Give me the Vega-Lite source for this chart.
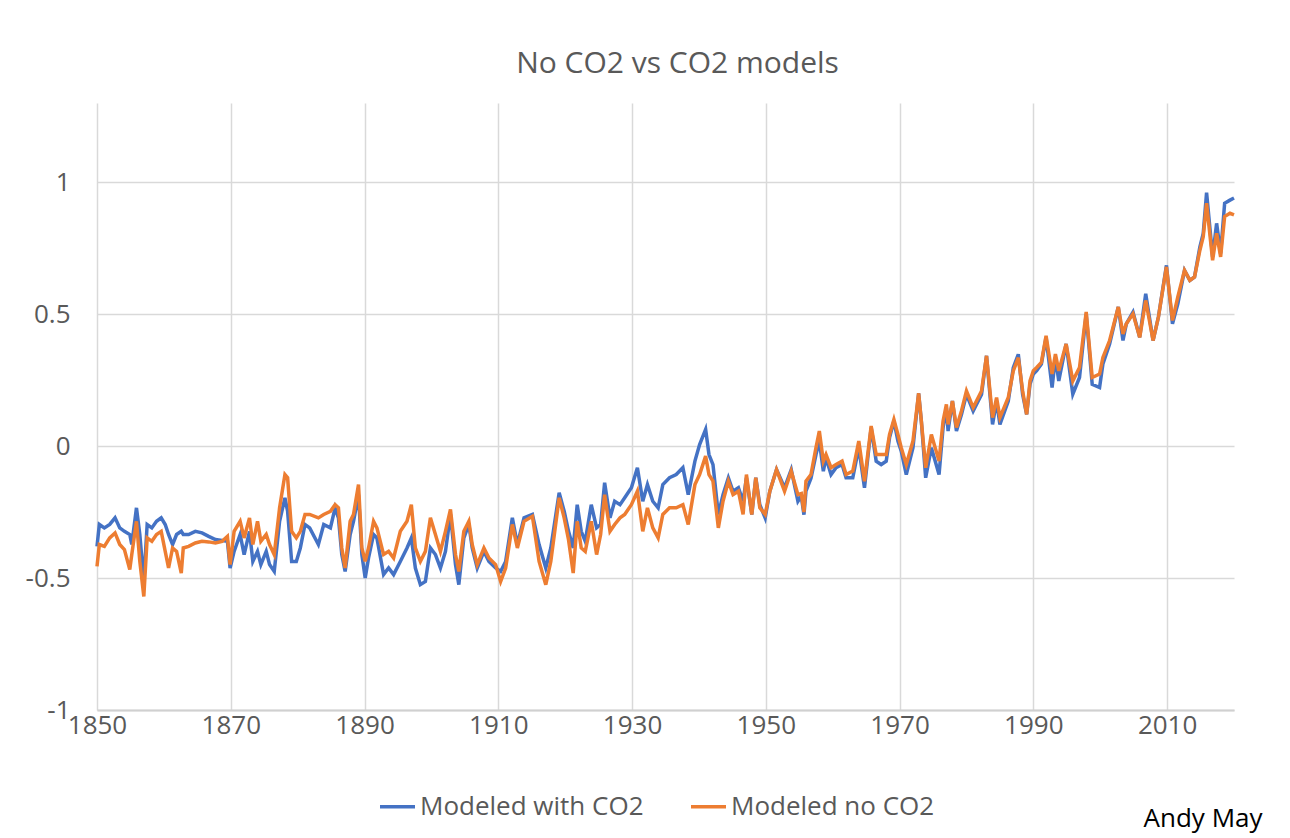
{
  "$schema": "https://vega.github.io/schema/vega-lite/v6.json",
  "width": 1137,
  "height": 607,
  "autosize": {"type": "none"},
  "padding": {"left": 97, "top": 103, "right": 56, "bottom": 128},
  "background": "white",
  "config": {
    "view": {"stroke": null},
    "font": "Open Sans"
  },
  "title": {
    "text": "No CO2 vs CO2 models",
    "fontSize": 30,
    "fontWeight": "normal",
    "font": "Open Sans",
    "color": "#595959",
    "anchor": "middle",
    "dx": 12,
    "offset": 24
  },
  "data": {
    "values": [
      {"year": 1850.0, "with": -0.38, "no": -0.456},
      {"year": 1850.35, "with": -0.297, "no": -0.373},
      {"year": 1851.1, "with": -0.31, "no": -0.38},
      {"year": 1851.9, "with": -0.297, "no": -0.348},
      {"year": 1852.7, "with": -0.272, "no": -0.329},
      {"year": 1853.4, "with": -0.31, "no": -0.373},
      {"year": 1854.1, "with": -0.323, "no": -0.392},
      {"year": 1854.9, "with": -0.335, "no": -0.468},
      {"year": 1855.2, "with": -0.373, "no": -0.411},
      {"year": 1855.9, "with": -0.234, "no": -0.285},
      {"year": 1856.4, "with": -0.335, "no": -0.437},
      {"year": 1857.0, "with": -0.513, "no": -0.57},
      {"year": 1857.5, "with": -0.297, "no": -0.348},
      {"year": 1858.2, "with": -0.31, "no": -0.361},
      {"year": 1858.9, "with": -0.285, "no": -0.335},
      {"year": 1859.6, "with": -0.272, "no": -0.323},
      {"year": 1860.2, "with": -0.297, "no": -0.399},
      {"year": 1860.7, "with": -0.335, "no": -0.462},
      {"year": 1861.3, "with": -0.373, "no": -0.386},
      {"year": 1861.9, "with": -0.335, "no": -0.399},
      {"year": 1862.6, "with": -0.323, "no": -0.481},
      {"year": 1862.9, "with": -0.335, "no": -0.386},
      {"year": 1863.7, "with": -0.335, "no": -0.38},
      {"year": 1864.7, "with": -0.323, "no": -0.367},
      {"year": 1865.7, "with": -0.329, "no": -0.361},
      {"year": 1866.7, "with": -0.342, "no": -0.363},
      {"year": 1867.7, "with": -0.354, "no": -0.367},
      {"year": 1868.7, "with": -0.358, "no": -0.361},
      {"year": 1869.5, "with": -0.361, "no": -0.342},
      {"year": 1869.9, "with": -0.462, "no": -0.449},
      {"year": 1870.5, "with": -0.399, "no": -0.323},
      {"year": 1871.4, "with": -0.335, "no": -0.285},
      {"year": 1872.0, "with": -0.411, "no": -0.348},
      {"year": 1872.8, "with": -0.323, "no": -0.272},
      {"year": 1873.3, "with": -0.437, "no": -0.373},
      {"year": 1874.0, "with": -0.399, "no": -0.285},
      {"year": 1874.5, "with": -0.449, "no": -0.361},
      {"year": 1875.3, "with": -0.399, "no": -0.335},
      {"year": 1875.8, "with": -0.449, "no": -0.373},
      {"year": 1876.5, "with": -0.475, "no": -0.411},
      {"year": 1877.3, "with": -0.285, "no": -0.234},
      {"year": 1878.1, "with": -0.196, "no": -0.108},
      {"year": 1878.5, "with": -0.247, "no": -0.12},
      {"year": 1879.1, "with": -0.437, "no": -0.323},
      {"year": 1879.8, "with": -0.437, "no": -0.348},
      {"year": 1880.4, "with": -0.386, "no": -0.323},
      {"year": 1881.1, "with": -0.297, "no": -0.259},
      {"year": 1881.8, "with": -0.31, "no": -0.259},
      {"year": 1883.1, "with": -0.373, "no": -0.272},
      {"year": 1883.9, "with": -0.297, "no": -0.259},
      {"year": 1884.9, "with": -0.31, "no": -0.247},
      {"year": 1885.6, "with": -0.234, "no": -0.222},
      {"year": 1886.1, "with": -0.272, "no": -0.234},
      {"year": 1886.6, "with": -0.411, "no": -0.386},
      {"year": 1887.1, "with": -0.475, "no": -0.462},
      {"year": 1887.85, "with": -0.335, "no": -0.285},
      {"year": 1888.35, "with": -0.285, "no": -0.259},
      {"year": 1889.1, "with": -0.184, "no": -0.146},
      {"year": 1889.6, "with": -0.411, "no": -0.386},
      {"year": 1890.1, "with": -0.5, "no": -0.437},
      {"year": 1890.6, "with": -0.424, "no": -0.386},
      {"year": 1891.35, "with": -0.335, "no": -0.285},
      {"year": 1891.85, "with": -0.348, "no": -0.31},
      {"year": 1892.85, "with": -0.487, "no": -0.411},
      {"year": 1893.6, "with": -0.462, "no": -0.399},
      {"year": 1894.35, "with": -0.487, "no": -0.424},
      {"year": 1895.35, "with": -0.437, "no": -0.323},
      {"year": 1896.35, "with": -0.386, "no": -0.285},
      {"year": 1897.0, "with": -0.348, "no": -0.222},
      {"year": 1897.6, "with": -0.462, "no": -0.386},
      {"year": 1898.35, "with": -0.525, "no": -0.437},
      {"year": 1899.1, "with": -0.513, "no": -0.399},
      {"year": 1899.85, "with": -0.386, "no": -0.272},
      {"year": 1900.6, "with": -0.411, "no": -0.335},
      {"year": 1901.35, "with": -0.462, "no": -0.399},
      {"year": 1902.1, "with": -0.399, "no": -0.323},
      {"year": 1902.85, "with": -0.259, "no": -0.24},
      {"year": 1903.6, "with": -0.449, "no": -0.411},
      {"year": 1904.1, "with": -0.525, "no": -0.475},
      {"year": 1904.85, "with": -0.348, "no": -0.323},
      {"year": 1905.6, "with": -0.297, "no": -0.285},
      {"year": 1906.1, "with": -0.386, "no": -0.373},
      {"year": 1906.85, "with": -0.462, "no": -0.449},
      {"year": 1907.85, "with": -0.399, "no": -0.386},
      {"year": 1908.6, "with": -0.437, "no": -0.424},
      {"year": 1909.6, "with": -0.462, "no": -0.449},
      {"year": 1910.35, "with": -0.475, "no": -0.513},
      {"year": 1911.1, "with": -0.437, "no": -0.462},
      {"year": 1912.1, "with": -0.272, "no": -0.297},
      {"year": 1912.85, "with": -0.373, "no": -0.386},
      {"year": 1913.85, "with": -0.272, "no": -0.285},
      {"year": 1915.1, "with": -0.259, "no": -0.266},
      {"year": 1916.1, "with": -0.373, "no": -0.437},
      {"year": 1917.1, "with": -0.462, "no": -0.525},
      {"year": 1917.85, "with": -0.386, "no": -0.437},
      {"year": 1919.1, "with": -0.177, "no": -0.196},
      {"year": 1919.85, "with": -0.247, "no": -0.272},
      {"year": 1920.5, "with": -0.323, "no": -0.355},
      {"year": 1921.2, "with": -0.386, "no": -0.481},
      {"year": 1921.8, "with": -0.222, "no": -0.285},
      {"year": 1922.4, "with": -0.323, "no": -0.386},
      {"year": 1923.0, "with": -0.361, "no": -0.399},
      {"year": 1923.9, "with": -0.222, "no": -0.285},
      {"year": 1924.7, "with": -0.31, "no": -0.411},
      {"year": 1925.3, "with": -0.297, "no": -0.335},
      {"year": 1925.9, "with": -0.139, "no": -0.184},
      {"year": 1926.7, "with": -0.272, "no": -0.323},
      {"year": 1927.4, "with": -0.209, "no": -0.297},
      {"year": 1928.2, "with": -0.222, "no": -0.272},
      {"year": 1928.9, "with": -0.196, "no": -0.259},
      {"year": 1929.9, "with": -0.158, "no": -0.222},
      {"year": 1930.8, "with": -0.082, "no": -0.171},
      {"year": 1931.6, "with": -0.209, "no": -0.323},
      {"year": 1932.3, "with": -0.146, "no": -0.234},
      {"year": 1933.1, "with": -0.209, "no": -0.31},
      {"year": 1933.9, "with": -0.234, "no": -0.348},
      {"year": 1934.6, "with": -0.146, "no": -0.259},
      {"year": 1935.6, "with": -0.12, "no": -0.234},
      {"year": 1936.6, "with": -0.108, "no": -0.234},
      {"year": 1937.6, "with": -0.082, "no": -0.222},
      {"year": 1938.4, "with": -0.184, "no": -0.297},
      {"year": 1939.4, "with": -0.057, "no": -0.146},
      {"year": 1940.1, "with": 0.006, "no": -0.108},
      {"year": 1941.0, "with": 0.063, "no": -0.038},
      {"year": 1941.5, "with": -0.032, "no": -0.108},
      {"year": 1942.1, "with": -0.07, "no": -0.133},
      {"year": 1942.9, "with": -0.259, "no": -0.31},
      {"year": 1943.6, "with": -0.184, "no": -0.209},
      {"year": 1944.4, "with": -0.12, "no": -0.133},
      {"year": 1945.1, "with": -0.171, "no": -0.184},
      {"year": 1945.9, "with": -0.158, "no": -0.171},
      {"year": 1946.6, "with": -0.209, "no": -0.259},
      {"year": 1947.1, "with": -0.12, "no": -0.108},
      {"year": 1947.9, "with": -0.259, "no": -0.259},
      {"year": 1948.5, "with": -0.12, "no": -0.12},
      {"year": 1949.1, "with": -0.222, "no": -0.234},
      {"year": 1949.9, "with": -0.272, "no": -0.259},
      {"year": 1950.6, "with": -0.171, "no": -0.171},
      {"year": 1951.6, "with": -0.089, "no": -0.089},
      {"year": 1952.8, "with": -0.158, "no": -0.171},
      {"year": 1953.8, "with": -0.089, "no": -0.095},
      {"year": 1954.8, "with": -0.209, "no": -0.184},
      {"year": 1955.3, "with": -0.19, "no": -0.18},
      {"year": 1955.7, "with": -0.26, "no": -0.25},
      {"year": 1956.0, "with": -0.171, "no": -0.133},
      {"year": 1956.75, "with": -0.122, "no": -0.108},
      {"year": 1957.5, "with": -0.032, "no": -0.006},
      {"year": 1958.0, "with": 0.019, "no": 0.057},
      {"year": 1958.6, "with": -0.095, "no": -0.057},
      {"year": 1959.0, "with": -0.044, "no": -0.032},
      {"year": 1959.75, "with": -0.108, "no": -0.082},
      {"year": 1960.5, "with": -0.082, "no": -0.07},
      {"year": 1961.4, "with": -0.07, "no": -0.057},
      {"year": 1962.0, "with": -0.12, "no": -0.108},
      {"year": 1963.0, "with": -0.12, "no": -0.095},
      {"year": 1963.9, "with": -0.006, "no": 0.019},
      {"year": 1964.75, "with": -0.158, "no": -0.133},
      {"year": 1965.75, "with": 0.07, "no": 0.076},
      {"year": 1966.5, "with": -0.057, "no": -0.032},
      {"year": 1967.25, "with": -0.07, "no": -0.032},
      {"year": 1968.0, "with": -0.057, "no": -0.032},
      {"year": 1968.5, "with": 0.032, "no": 0.044},
      {"year": 1969.15, "with": 0.095, "no": 0.101},
      {"year": 1969.75, "with": 0.019, "no": 0.044},
      {"year": 1970.25, "with": -0.019, "no": -0.006},
      {"year": 1971.0, "with": -0.108, "no": -0.07},
      {"year": 1972.0, "with": -0.006, "no": 0.019},
      {"year": 1972.85, "with": 0.2, "no": 0.2},
      {"year": 1973.25, "with": 0.095, "no": 0.095},
      {"year": 1973.9, "with": -0.12, "no": -0.082},
      {"year": 1974.75, "with": -0.006, "no": 0.044},
      {"year": 1975.9, "with": -0.108, "no": -0.057},
      {"year": 1976.5, "with": 0.07, "no": 0.095},
      {"year": 1977.0, "with": 0.146, "no": 0.158},
      {"year": 1977.25, "with": 0.057, "no": 0.082},
      {"year": 1977.9, "with": 0.171, "no": 0.171},
      {"year": 1978.5, "with": 0.057, "no": 0.07},
      {"year": 1979.25, "with": 0.12, "no": 0.133},
      {"year": 1980.0, "with": 0.196, "no": 0.209},
      {"year": 1981.0, "with": 0.133, "no": 0.146},
      {"year": 1982.25, "with": 0.196, "no": 0.209},
      {"year": 1983.0, "with": 0.342, "no": 0.342},
      {"year": 1983.9, "with": 0.082, "no": 0.108},
      {"year": 1984.5, "with": 0.171, "no": 0.184},
      {"year": 1985.0, "with": 0.082, "no": 0.108},
      {"year": 1986.25, "with": 0.171, "no": 0.184},
      {"year": 1987.0, "with": 0.297, "no": 0.285},
      {"year": 1987.75, "with": 0.348, "no": 0.335},
      {"year": 1988.4, "with": 0.196, "no": 0.209},
      {"year": 1989.0, "with": 0.12, "no": 0.12},
      {"year": 1989.5, "with": 0.234, "no": 0.247},
      {"year": 1990.0, "with": 0.273, "no": 0.286},
      {"year": 1990.5, "with": 0.286, "no": 0.298},
      {"year": 1991.2, "with": 0.311, "no": 0.317},
      {"year": 1991.9, "with": 0.412, "no": 0.418},
      {"year": 1992.8, "with": 0.222, "no": 0.273},
      {"year": 1993.3, "with": 0.336, "no": 0.349},
      {"year": 1993.8, "with": 0.247, "no": 0.285},
      {"year": 1994.9, "with": 0.387, "no": 0.387},
      {"year": 1995.9, "with": 0.197, "no": 0.247},
      {"year": 1996.9, "with": 0.26, "no": 0.298},
      {"year": 1997.9, "with": 0.501, "no": 0.508},
      {"year": 1998.8, "with": 0.234, "no": 0.26},
      {"year": 1999.9, "with": 0.222, "no": 0.273},
      {"year": 2000.4, "with": 0.311, "no": 0.336},
      {"year": 2001.4, "with": 0.387, "no": 0.4},
      {"year": 2002.7, "with": 0.527, "no": 0.527},
      {"year": 2003.4, "with": 0.4, "no": 0.425},
      {"year": 2003.9, "with": 0.463, "no": 0.463},
      {"year": 2004.9, "with": 0.508, "no": 0.501},
      {"year": 2005.9, "with": 0.412, "no": 0.412},
      {"year": 2006.8, "with": 0.577, "no": 0.552},
      {"year": 2007.9, "with": 0.4, "no": 0.4},
      {"year": 2008.7, "with": 0.489, "no": 0.489},
      {"year": 2009.9, "with": 0.685, "no": 0.679},
      {"year": 2010.8, "with": 0.463, "no": 0.476},
      {"year": 2011.6, "with": 0.539, "no": 0.565},
      {"year": 2012.6, "with": 0.666, "no": 0.666},
      {"year": 2013.4, "with": 0.628, "no": 0.628},
      {"year": 2014.1, "with": 0.641, "no": 0.641},
      {"year": 2014.9, "with": 0.755, "no": 0.742},
      {"year": 2015.4, "with": 0.806, "no": 0.793},
      {"year": 2015.9, "with": 0.96, "no": 0.92},
      {"year": 2016.8, "with": 0.717, "no": 0.704},
      {"year": 2017.4, "with": 0.844, "no": 0.806},
      {"year": 2018.0, "with": 0.73, "no": 0.717},
      {"year": 2018.6, "with": 0.92, "no": 0.87},
      {"year": 2019.4, "with": 0.932, "no": 0.882},
      {"year": 2020.0, "with": 0.94, "no": 0.876}
    ]
  },
  "encoding": {
    "x": {
      "field": "year",
      "type": "quantitative",
      "scale": {"domain": [1850, 2020], "nice": false, "zero": false},
      "axis": {
        "values": [1850, 1870, 1890, 1910, 1930, 1950, 1970, 1990, 2010],
        "format": "d",
        "grid": true,
        "gridColor": "#d9d9d9",
        "gridWidth": 1.5,
        "domain": true,
        "domainColor": "#d0d0d0",
        "domainWidth": 2,
        "ticks": false,
        "labelFont": "Open Sans",
        "labelFontSize": 26,
        "labelColor": "#595959",
        "labelPadding": 2,
        "labelFlush": false,
        "title": "Andy May",
        "titleFont": "Open Sans",
        "titleFontSize": 26,
        "titleFontWeight": "normal",
        "titleColor": "#000000",
        "titleAnchor": "end",
        "titleAlign": "right",
        "titleBaseline": "alphabetic",
        "titleX": 1165,
        "titleY": 116
      }
    }
  },
  "layer": [
    {
      "mark": {"type": "line", "strokeWidth": 3.5, "interpolate": "linear"},
      "encoding": {
        "y": {
          "field": "with",
          "type": "quantitative",
          "scale": {"domain": [-1, 1.3], "nice": false, "zero": false},
          "axis": {
            "values": [-1, -0.5, 0, 0.5, 1],
            "labelExpr": "toString(datum.value)",
            "title": null,
            "grid": true,
            "gridColor": "#d9d9d9",
            "gridWidth": 1.5,
            "domain": false,
            "ticks": false,
            "labelFont": "Open Sans",
            "labelFontSize": 26,
            "labelColor": "#595959",
            "labelPadding": 27
          }
        },
        "color": {"datum": "Modeled with CO2"}
      }
    },
    {
      "mark": {"type": "line", "strokeWidth": 3.5, "interpolate": "linear"},
      "encoding": {
        "y": {"field": "no", "type": "quantitative"},
        "color": {
          "datum": "Modeled no CO2",
          "scale": {
            "domain": ["Modeled with CO2", "Modeled no CO2"],
            "range": ["#4472C4", "#ED7D31"]
          },
          "legend": {
            "title": null,
            "orient": "none",
            "direction": "horizontal",
            "legendX": 281,
            "legendY": 684,
            "symbolType": "stroke",
            "symbolStrokeWidth": 3.5,
            "symbolSize": 1225,
            "labelFont": "Open Sans",
            "labelFontSize": 26,
            "labelLimit": 0,
            "labelColor": "#595959",
            "labelOffset": 3,
            "columnPadding": 40
          }
        }
      }
    }
  ]
}
